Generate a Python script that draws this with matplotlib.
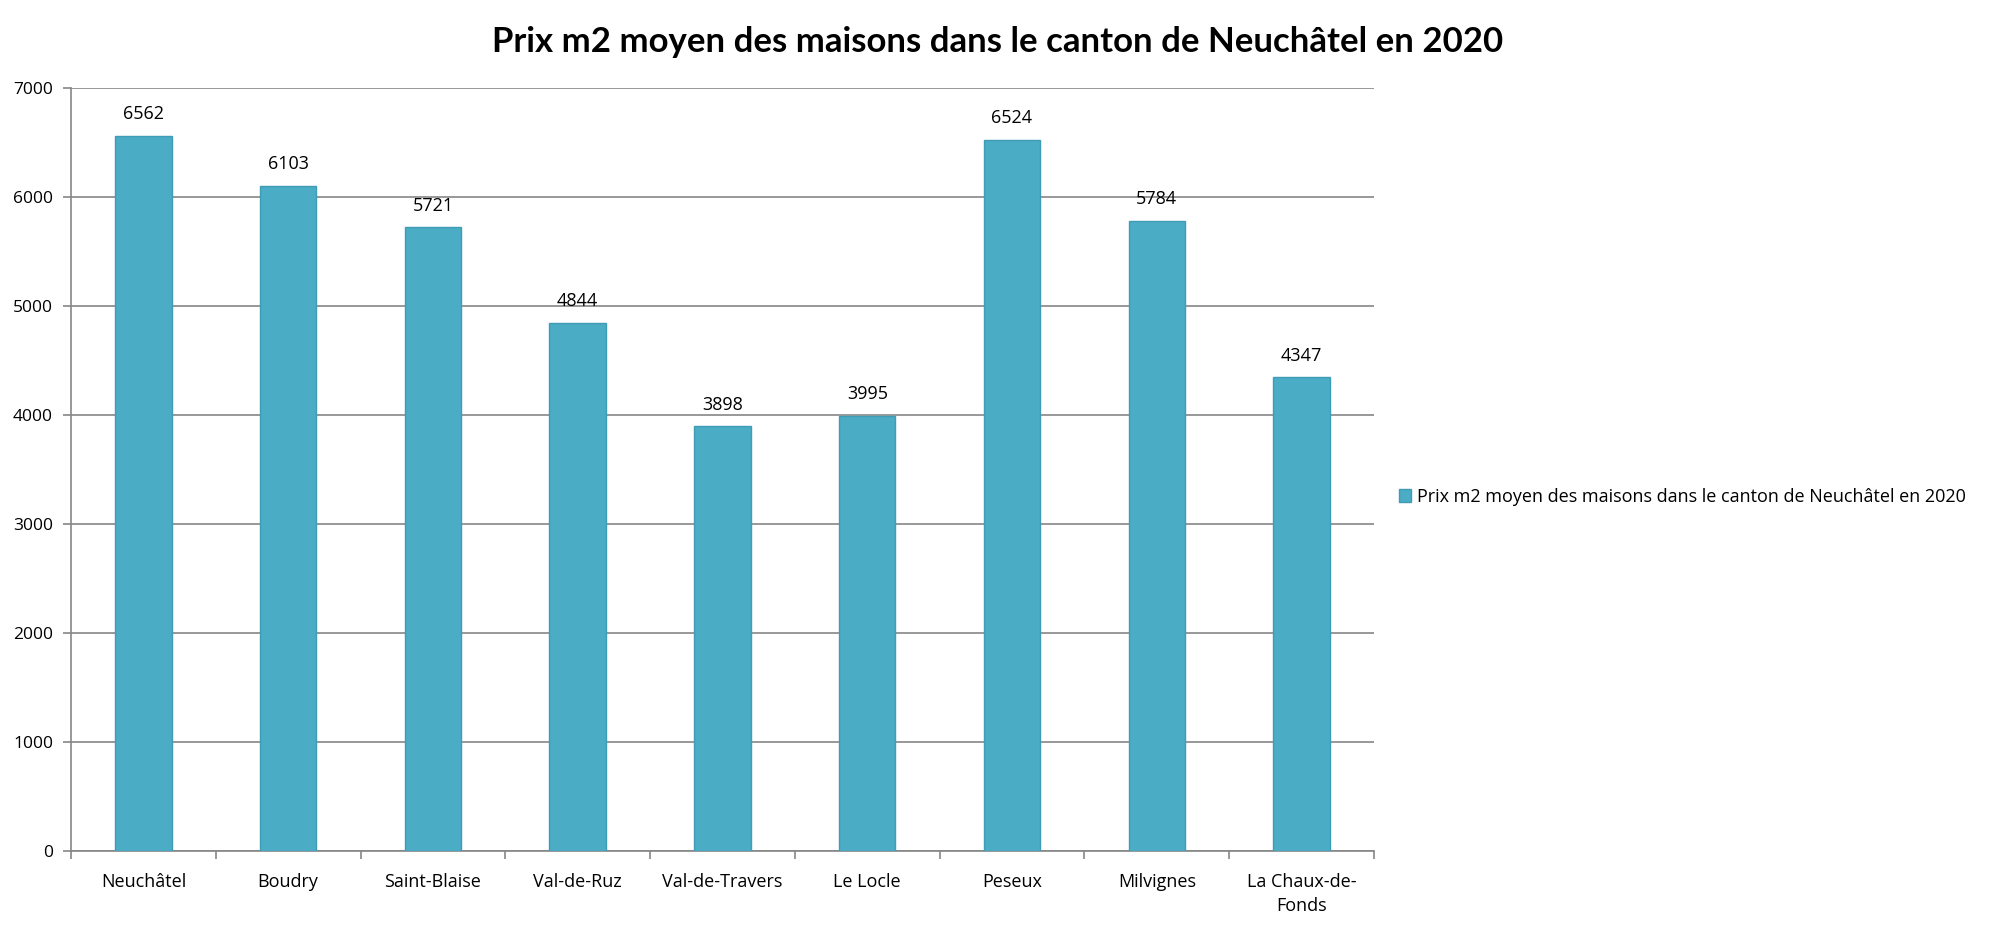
import numpy as np
import matplotlib
matplotlib.use("Agg")
import matplotlib.pyplot as plt
from matplotlib.ticker import FixedLocator

# Data
communes = ['Neuchâtel', 'Boudry', 'Saint-Blaise', 'Val-de-Ruz', 'Val-de-Travers',
            'Le Locle', 'Peseux', 'Milvignes', 'La Chaux-de-\nFonds']
prix_m2 = [6562, 6103, 5721, 4844, 3898, 3995, 6524, 5784, 4347]
y_ticks = [0, 1000, 2000, 3000, 4000, 5000, 6000, 7000]

titre = 'Prix m2 moyen des maisons dans le canton de Neuchâtel en 2020'
bar_color = '#4BACC6'
grid_color = '#868686'

plt.rcParams['font.family'] = ['Open Sans', 'DejaVu Sans']

fig = plt.figure(figsize=(19.95, 9.25), dpi=100)
ax = fig.add_axes([0.0356, 0.08, 0.6531, 0.8249])

x = np.arange(len(communes))
bars = ax.bar(x, prix_m2, width=0.39, color=bar_color, edgecolor='#3E9CB5',
              linewidth=1, zorder=3, label=titre)

# Value labels above each bar
for xi, v in zip(x, prix_m2):
    ax.annotate(str(v), (xi, v), xytext=(0, 9), textcoords='offset points',
                ha='center', va='bottom', fontsize=13)

ax.set_xlim(-0.5, len(communes) - 0.5)
ax.set_ylim(0, 7000)
ax.set_yticks(y_ticks)
ax.set_yticklabels([str(t) for t in y_ticks], fontsize=12.5)
ax.yaxis.grid(True, color=grid_color, linewidth=1.2, zorder=0)
ax.tick_params(axis='y', length=6, color=grid_color, width=1.2, pad=7)

# Category labels centered, ticks at the category boundaries
ax.set_xticks(x)
ax.set_xticklabels(communes, fontsize=13, linespacing=1.4)
ax.tick_params(axis='x', which='major', length=0, pad=16)
ax.xaxis.set_minor_locator(FixedLocator(np.arange(-0.5, len(communes), 1.0)))
ax.tick_params(axis='x', which='minor', length=6, color=grid_color, width=1.2)

for side in ['top', 'right']:
    ax.spines[side].set_visible(False)
for side in ['left', 'bottom']:
    ax.spines[side].set_color(grid_color)
    ax.spines[side].set_linewidth(1.2)

fig.text(0.5, 0.955, titre, ha='center', va='center', fontsize=25,
         fontweight='bold', family=['Lato', 'DejaVu Sans'])

fig.legend(handles=[bars], labels=[titre], loc='center left',
           bbox_to_anchor=(0.693, 0.463), frameon=False, fontsize=13,
           handlelength=0.7, handleheight=0.7, handletextpad=0.3)

fig.savefig('out.png', dpi=100, facecolor='white')
